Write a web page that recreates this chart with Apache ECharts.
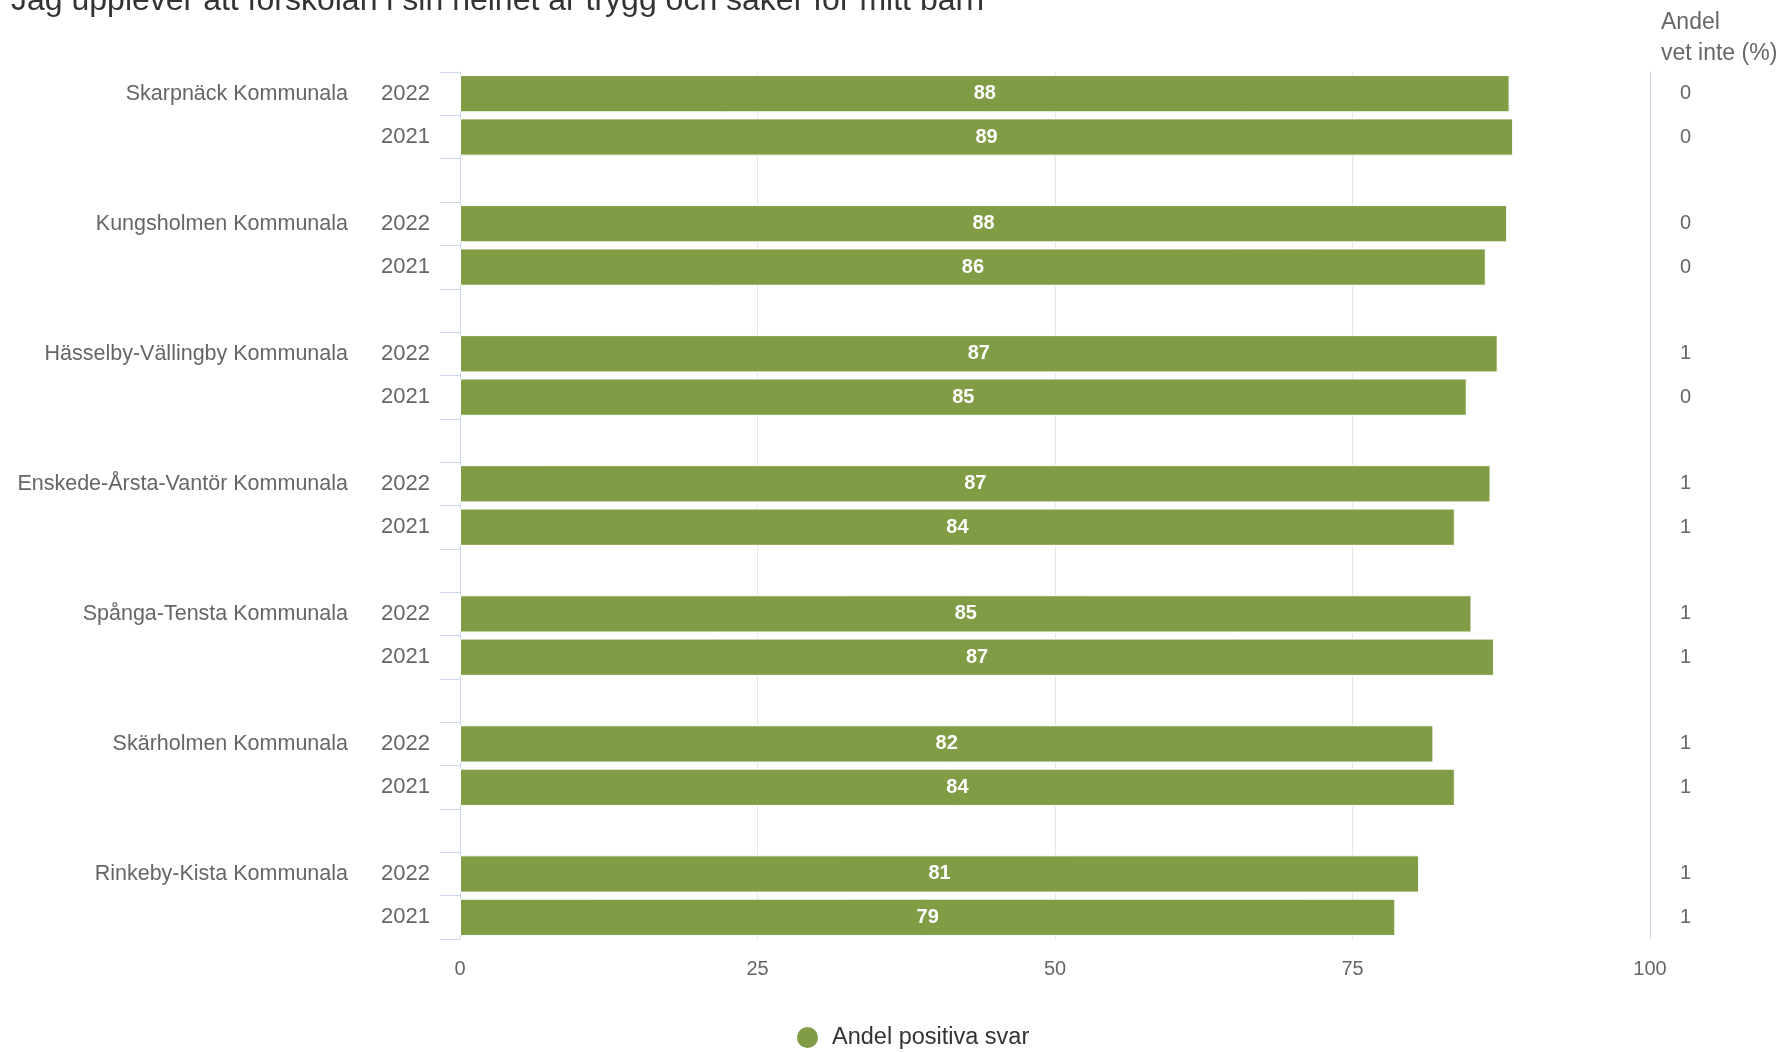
<!DOCTYPE html>
<html>
<head>
<meta charset="utf-8">
<script src="https://cdn.jsdelivr.net/npm/echarts@6/dist/echarts.min.js"></script>
<style>
html,body{margin:0;padding:0;background:#fff;}
#chart{width:1785px;height:1052px;}
</style>
</head>
<body>
<div id="chart"></div>
<script>
const titleText = "Jag upplever att förskolan i sin helhet är trygg och säker för mitt barn";
const districts = [
  "Skarpnäck Kommunala",
  "Kungsholmen Kommunala",
  "Hässelby-Vällingby Kommunala",
  "Enskede-Årsta-Vantör Kommunala",
  "Spånga-Tensta Kommunala",
  "Skärholmen Kommunala",
  "Rinkeby-Kista Kommunala"
];
const years = ["2022", "2021"];
const positive2022 = [88.2, 88.0, 87.2, 86.6, 85.0, 81.8, 80.6];
const positive2021 = [88.5, 86.2, 84.6, 83.6, 86.9, 83.6, 78.6];
const vetInte2022 = [0, 0, 1, 1, 1, 1, 1];
const vetInte2021 = [0, 0, 0, 1, 1, 1, 1];
const xTicks = [0, 25, 50, 75, 100];
const legendName = "Andel positiva svar";
const rightHeader = "Andel\nvet inte (%)";

// Build row tables (2022, 2021, blank spacer between groups)
const yearRows = [], districtRows = [], values = [], vetRows = [];
districts.forEach((d, i) => {
  yearRows.push(years[0]); districtRows.push(d); values.push(positive2022[i]); vetRows.push(String(vetInte2022[i]));
  yearRows.push(years[1]); districtRows.push(""); values.push(positive2021[i]); vetRows.push(String(vetInte2021[i]));
  if (i < districts.length - 1) {
    yearRows.push(""); districtRows.push(""); values.push("-"); vetRows.push("");
  }
});

const FONT = "Liberation Sans, Arial, Helvetica, sans-serif";
const chart = echarts.init(document.getElementById('chart'));
chart.setOption({
  animation: false,
  backgroundColor: '#ffffff',
  title: [
    { text: titleText, left: 11, top: -15, padding: 0,
      textStyle: { fontFamily: FONT, fontSize: 32, fontWeight: 'normal', color: '#333333' } },
    { text: rightHeader, left: 1661, top: 7, padding: 0,
      textStyle: { fontFamily: FONT, fontSize: 23, fontWeight: 'normal', color: '#666666', lineHeight: 31 } }
  ],
  legend: {
    data: [legendName],
    left: 790, top: 1020,
    icon: 'circle', itemWidth: 23, itemHeight: 23,
    textStyle: { fontFamily: FONT, fontSize: 23.5, color: '#333333', padding: [0, 0, 0, 8] }
  },
  grid: { left: 460, right: 135, top: 72, bottom: 113, containLabel: false },
  xAxis: {
    type: 'value', min: 0, max: 100, interval: 25,
    axisLine: { show: false }, axisTick: { show: false },
    splitLine: { show: true, lineStyle: { color: '#e6e6e6', width: 1 } },
    axisLabel: { fontFamily: FONT, fontSize: 20, color: '#666666', margin: 20,
      formatter: v => xTicks.includes(v) ? String(v) : '' }
  },
  yAxis: [
    {
      type: 'category', data: yearRows, inverse: true,
      axisLine: { show: true, lineStyle: { color: '#ccd6eb', width: 1 } },
      axisTick: { show: true, length: 20, lineStyle: { color: '#ccd6eb', width: 1 } },
      axisLabel: { fontFamily: FONT, fontSize: 22, color: '#666666', margin: 30 }
    },
    {
      type: 'category', data: districtRows, inverse: true, position: 'left', offset: 104,
      axisLine: { show: false }, axisTick: { show: false },
      axisLabel: { fontFamily: FONT, fontSize: 21.5, color: '#666666', margin: 8, interval: 0 }
    },
    {
      type: 'category', data: vetRows, inverse: true, position: 'right',
      axisLine: { show: true, lineStyle: { color: '#ccd6eb', width: 1 } },
      axisTick: { show: false },
      axisLabel: { fontFamily: FONT, fontSize: 20, color: '#666666', margin: 30, interval: 0 }
    }
  ],
  series: [{
    name: legendName,
    type: 'bar',
    yAxisIndex: 0,
    data: values,
    barCategoryGap: '14%',
    itemStyle: { color: '#809d45', borderColor: '#ffffff', borderWidth: 1 },
    label: {
      show: true, position: 'inside', color: '#ffffff',
      fontFamily: FONT, fontSize: 20, fontWeight: 'bold',
      formatter: p => String(Math.round(p.value))
    }
  }]
});
</script>
</body>
</html>
